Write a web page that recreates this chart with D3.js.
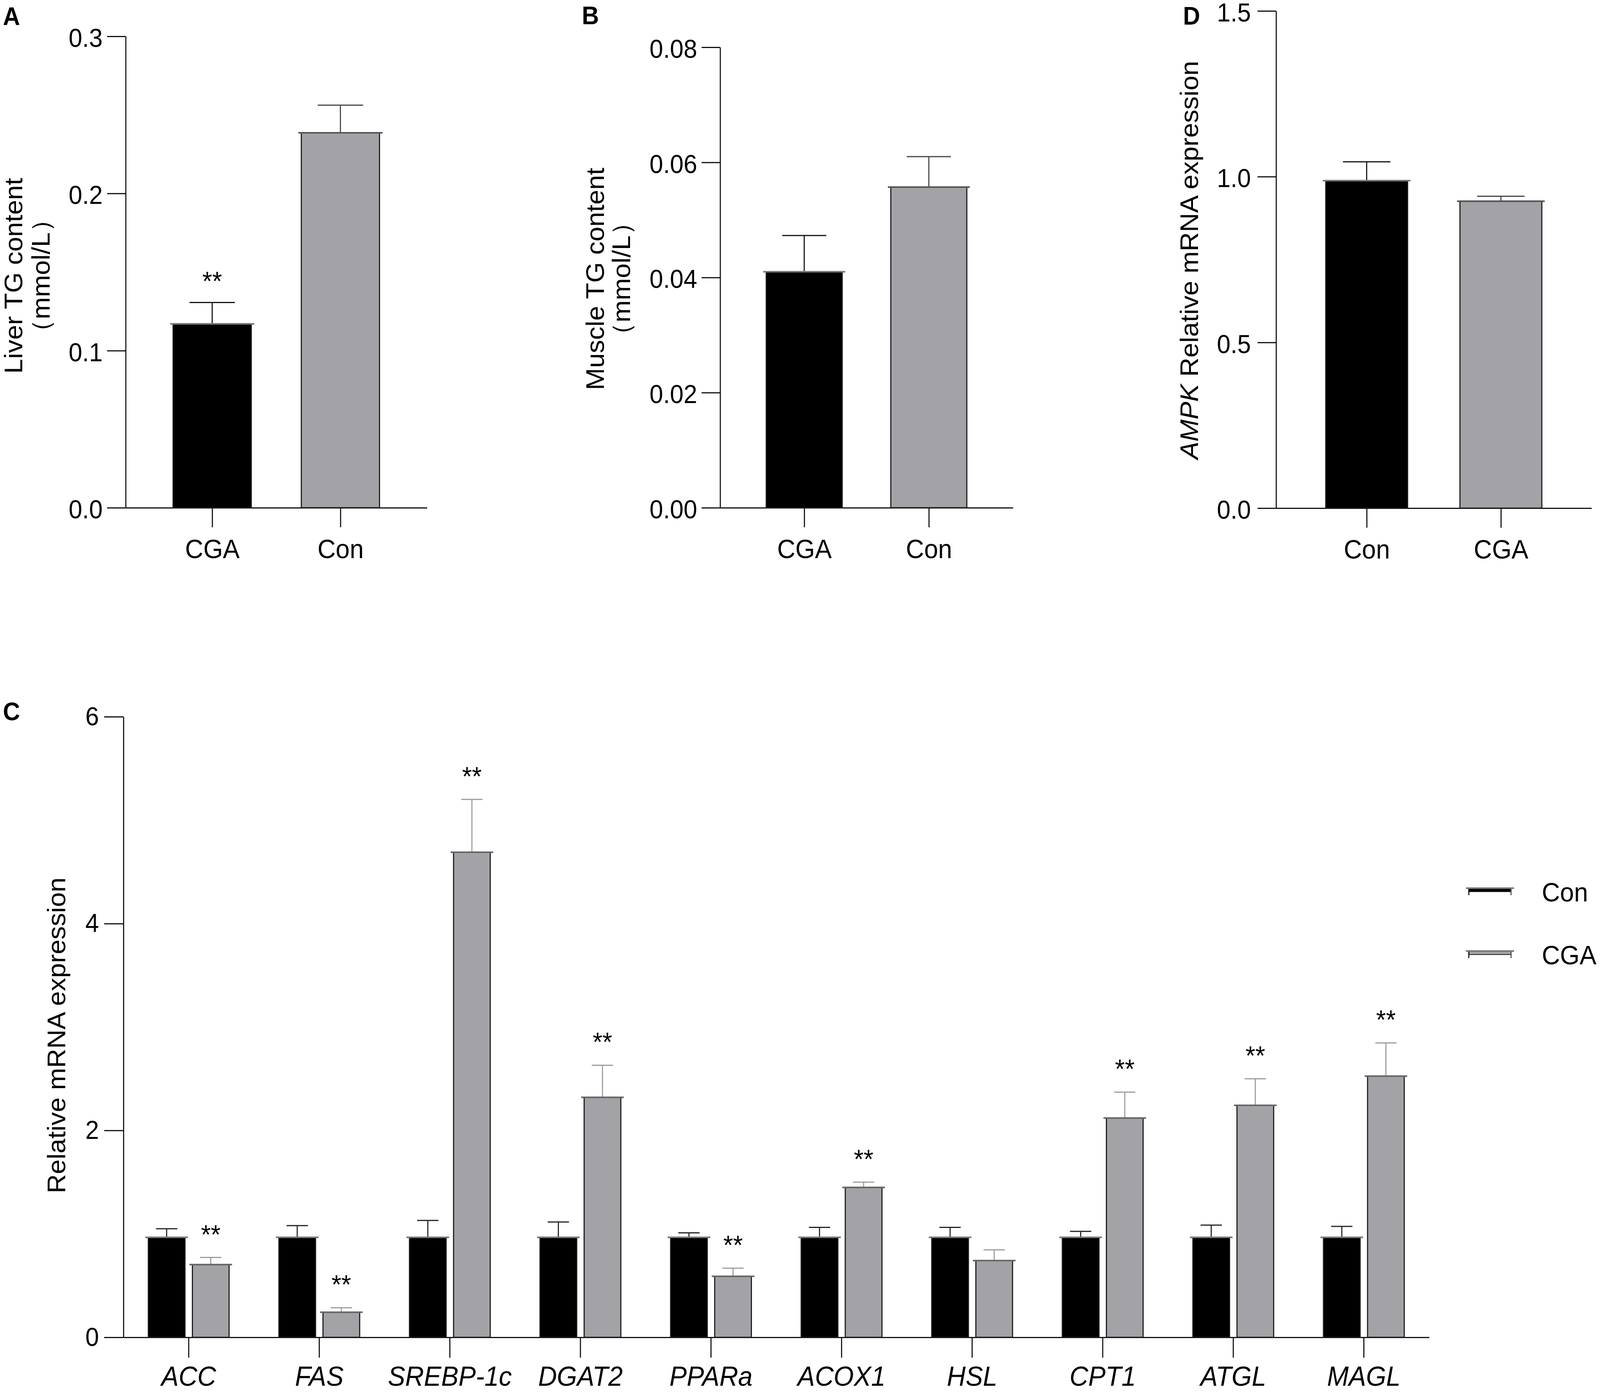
<!DOCTYPE html>
<html>
<head>
<meta charset="utf-8">
<script src="https://cdn.jsdelivr.net/npm/d3@7"></script>
<style>
  html, body { margin: 0; padding: 0; background: #fff; overflow: hidden; }
  #chart svg { display: block; }
</style>
</head>
<body>
<div id="chart"></div>
<script>
// figure size (drawing units; the svg is stretched to the window)
const WIDTH = 4317;
const HEIGHT = 3564;
const FONT = '"Liberation Sans", Arial, Helvetica, sans-serif';

// panel A - liver TG
const A_GROUPS = ['CGA', 'Con'];
const A_VALUES = [0.117, 0.2386];
const A_ERRORS = [0.0136, 0.0176];
const A_SIG = ['**', ''];
const A_TICKS = [0, 0.1, 0.2, 0.3];

// panel B - muscle TG
const B_GROUPS = ['CGA', 'Con'];
const B_VALUES = [0.0410, 0.0557];
const B_ERRORS = [0.0063, 0.0053];
const B_SIG = ['', ''];
const B_TICKS = [0, 0.02, 0.04, 0.06, 0.08];

// panel D - AMPK
const D_GROUPS = ['Con', 'CGA'];
const D_VALUES = [0.988, 0.926];
const D_ERRORS = [0.057, 0.015];
const D_SIG = ['', ''];
const D_TICKS = [0, 0.5, 1.0, 1.5];

// panel C - gene expression
const GENES = ['ACC', 'FAS', 'SREBP-1c', 'DGAT2', 'PPARa', 'ACOX1', 'HSL', 'CPT1', 'ATGL', 'MAGL'];
const SERIES = ['Con', 'CGA'];
const CON_VALUES = [0.967, 0.967, 0.967, 0.967, 0.967, 0.967, 0.967, 0.967, 0.967, 0.967];
const CON_ERRORS = [0.083, 0.113, 0.163, 0.148, 0.043, 0.096, 0.096, 0.057, 0.118, 0.105];
const CGA_VALUES = [0.703, 0.243, 4.69, 2.32, 0.59, 1.449, 0.742, 2.12, 2.243, 2.525];
const CGA_ERRORS = [0.069, 0.043, 0.51, 0.31, 0.078, 0.051, 0.104, 0.25, 0.257, 0.321];
const CGA_SIG = ['**', '**', '**', '**', '**', '**', '', '**', '**', '**'];
const C_TICKS = [0, 2, 4, 6];

const BLACK = '#000000';
const GREY = '#a3a3a7';

const svg = d3.select('#chart')
    .append('svg')
        .attr('viewBox', '0 0 ' + WIDTH + ' ' + HEIGHT)
        .attr('preserveAspectRatio', 'none')
        .style('width', '100vw')
        .style('height', '100vh')
        .style('font-family', FONT);

// common axis styling
function styleAxis(g, fontSize) {
    g.select('.domain').attr('stroke', '#111').attr('stroke-width', 3);
    g.selectAll('.tick line').attr('stroke', '#111').attr('stroke-width', 3);
    g.selectAll('.tick text')
        .attr('fill', '#000')
        .style('font-family', FONT)
        .style('font-size', fontSize + 'px');
}

// one bar with its top line and upper error bar
function drawBar(g, cx, bw, y, value, err, fill, errColor, topColor) {
    const yBase = y(0);
    const yTop = y(value);
    const yErr = y(value + err);
    g.append('rect')
        .attr('x', cx - bw / 2)
        .attr('y', yTop)
        .attr('width', bw)
        .attr('height', yBase - yTop)
        .attr('fill', fill)
        .attr('stroke', '#1a1a1a')
        .attr('stroke-width', 3);
    // error bar stem + cap
    g.append('line')
        .attr('x1', cx).attr('x2', cx)
        .attr('y1', yTop).attr('y2', yErr)
        .attr('stroke', errColor).attr('stroke-width', 3);
    g.append('line')
        .attr('x1', cx - bw * 0.29).attr('x2', cx + bw * 0.29)
        .attr('y1', yErr).attr('y2', yErr)
        .attr('stroke', errColor).attr('stroke-width', 3);
    // top edge, slightly wider than the bar
    g.append('line')
        .attr('x1', cx - bw / 2 - 8).attr('x2', cx + bw / 2 + 8)
        .attr('y1', yTop).attr('y2', yTop)
        .attr('stroke', topColor).attr('stroke-width', 4);
}

function drawStar(g, cx, yPos, label) {
    if (!label) return;
    g.append('text')
        .attr('x', cx)
        .attr('y', yPos)
        .attr('text-anchor', 'middle')
        .style('font-size', '68px')
        .attr('fill', '#000')
        .text(label);
}

function panelLetter(x, y, letter) {
    svg.append('text')
        .attr('x', x).attr('y', y)
        .style('font-size', '64px')
        .style('font-weight', 'bold')
        .attr('fill', '#000')
        .text(letter);
}

// y axis title, rotated; each line given as [baselineX, parts]
function yTitle(lines, cy) {
    lines.forEach(([bx, parts]) => {
        const t = svg.append('text')
            .attr('transform', 'translate(' + bx + ',' + cy + ') rotate(-90)')
            .attr('text-anchor', 'middle')
            .style('font-size', '68px')
            .attr('fill', '#000');
        parts.forEach(p => {
            t.append('tspan')
                .style('font-style', p.italic ? 'italic' : 'normal')
                .text(p.text);
        });
    });
}

// two-bar panels (A, B, D)
function drawSmallPanel(cfg, groups, values, errors, sig, fills) {
    const X = d3.scalePoint()
        .domain(groups)
        .range([cfg.left, cfg.right])
        .padding(0.675);
    const Y = d3.scaleLinear()
        .domain([0, cfg.max])
        .range([cfg.bottom, cfg.top]);
    const bw = X.step() * 0.61;

    svg.append('g')
        .attr('transform', 'translate(' + cfg.left + ',0)')
        .call(d3.axisLeft(Y).tickValues(cfg.ticks).tickFormat(d3.format(cfg.fmt))
            .tickSize(50).tickSizeOuter(0).tickPadding(cfg.tickPad))
        .call(g => styleAxis(g, 66))
        .call(g => g.selectAll('.tick text').attr('dy', '0.4em'));

    svg.append('g')
        .attr('transform', 'translate(0,' + cfg.bottom + ')')
        .call(d3.axisBottom(X).tickSize(50).tickSizeOuter(0).tickPadding(31))
        .call(g => styleAxis(g, 68));

    const g = svg.append('g');
    groups.forEach((d, i) => {
        const isGrey = fills[i] === GREY;
        drawBar(g, X(d), bw, Y, values[i], errors[i], fills[i],
            isGrey ? '#444' : '#111', isGrey ? '#555' : '#777');
        drawStar(g, X(d), Y(values[i] + errors[i]) - 32, sig[i]);
    });
}

// panel A
drawSmallPanel({left: 339, right: 1152, top: 93, bottom: 1300, max: 0.3, ticks: A_TICKS, fmt: '.1f', tickPad: 12},
    A_GROUPS, A_VALUES, A_ERRORS, A_SIG, [BLACK, GREY]);
panelLetter(8, 64, 'A');
yTitle([[60, [{text: 'Liver TG content'}]], [134, [{text: '（mmol/L）'}]]], 706);

// panel B
drawSmallPanel({left: 1943, right: 2733, top: 121, bottom: 1300, max: 0.08, ticks: B_TICKS, fmt: '.2f', tickPad: 12},
    B_GROUPS, B_VALUES, B_ERRORS, B_SIG, [BLACK, GREY]);
panelLetter(1570, 62, 'B');
yTitle([[1629, [{text: 'Muscle TG content'}]], [1700, [{text: '（mmol/L）'}]]], 714);

// panel D
drawSmallPanel({left: 3443, right: 4294, top: 28, bottom: 1301, max: 1.5, ticks: D_TICKS, fmt: '.1f', tickPad: 18},
    D_GROUPS, D_VALUES, D_ERRORS, D_SIG, [BLACK, GREY]);
panelLetter(3192, 63, 'D');
yTitle([[3232, [{text: 'AMPK', italic: true}, {text: ' Relative mRNA expression'}]]], 666);

// panel C
const C_LEFT = 333, C_RIGHT = 3856, C_TOP = 1835, C_BOTTOM = 3424;

const X_C = d3.scaleBand()
    .domain(GENES)
    .range([C_LEFT, C_RIGHT]);
const X_SUB = d3.scaleBand()
    .domain(SERIES)
    .range([-109, 109])
    .paddingInner(0.168);
const Y_C = d3.scaleLinear()
    .domain([0, 6])
    .range([C_BOTTOM, C_TOP]);

svg.append('g')
    .attr('transform', 'translate(' + C_LEFT + ',0)')
    .call(d3.axisLeft(Y_C).tickValues(C_TICKS).tickFormat(d3.format('d'))
        .tickSize(52).tickSizeOuter(0).tickPadding(14))
    .call(g => styleAxis(g, 66));

svg.append('g')
    .attr('transform', 'translate(0,' + C_BOTTOM + ')')
    .call(d3.axisBottom(X_C).tickSize(52).tickSizeOuter(0).tickPadding(22))
    .call(g => styleAxis(g, 70))
    .call(g => g.selectAll('.tick text').style('font-style', 'italic'));

const C_BARS = svg.append('g');
GENES.forEach((gene, i) => {
    const center = X_C(gene) + X_C.bandwidth() / 2;
    const bw = X_SUB.bandwidth();
    const cxCon = center + X_SUB('Con') + bw / 2;
    const cxCga = center + X_SUB('CGA') + bw / 2;
    drawBar(C_BARS, cxCon, bw, Y_C, CON_VALUES[i], CON_ERRORS[i], BLACK, '#222', '#777');
    drawBar(C_BARS, cxCga, bw, Y_C, CGA_VALUES[i], CGA_ERRORS[i], GREY, '#9c9c9c', '#666');
    drawStar(C_BARS, cxCga, Y_C(CGA_VALUES[i] + CGA_ERRORS[i]) - 36, CGA_SIG[i]);
});

panelLetter(8, 1844, 'C');
yTitle([[176, [{text: 'Relative mRNA expression'}]]], 2651);

// legend for panel C
const LEGEND = svg.append('g');
const LEGEND_ROWS = [
    {label: SERIES[0], fill: BLACK, y: 2274},
    {label: SERIES[1], fill: GREY, y: 2435}
];
LEGEND_ROWS.forEach(r => {
    LEGEND.append('rect')
        .attr('x', 3963).attr('y', r.y)
        .attr('width', 114).attr('height', 9)
        .attr('fill', r.fill)
        .attr('stroke', '#222').attr('stroke-width', 2);
    LEGEND.append('line')
        .attr('x1', 3963).attr('x2', 3963)
        .attr('y1', r.y).attr('y2', r.y + 18)
        .attr('stroke', '#111').attr('stroke-width', 3);
    LEGEND.append('line')
        .attr('x1', 4077).attr('x2', 4077)
        .attr('y1', r.y).attr('y2', r.y + 18)
        .attr('stroke', '#555').attr('stroke-width', 3);
    LEGEND.append('line')
        .attr('x1', 3955).attr('x2', 4085)
        .attr('y1', r.y).attr('y2', r.y)
        .attr('stroke', '#777').attr('stroke-width', 4);
    LEGEND.append('text')
        .attr('x', 4160).attr('y', r.y + 34)
        .style('font-size', '68px')
        .attr('fill', '#000')
        .text(r.label);
});
</script>
</body>
</html>
